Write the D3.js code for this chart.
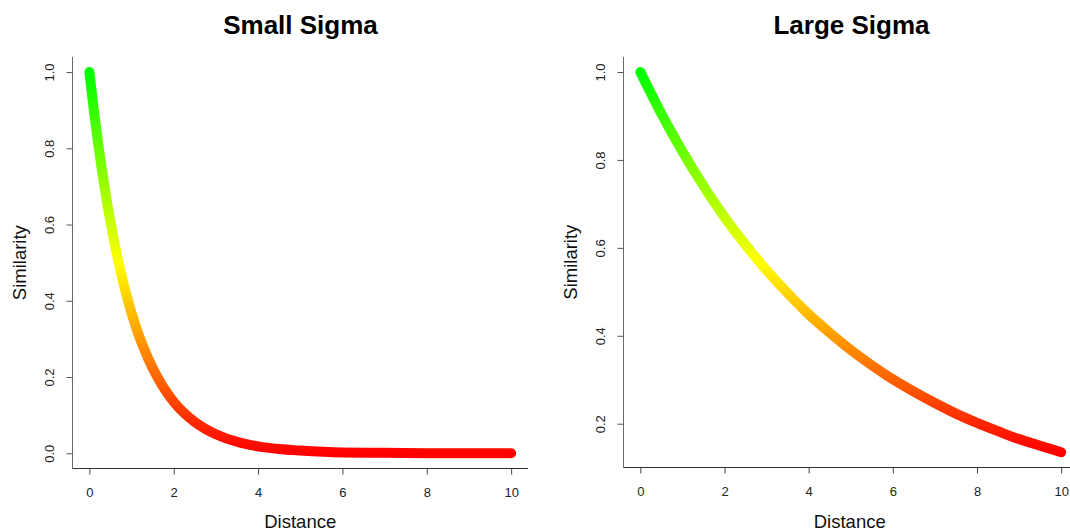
<!DOCTYPE html>
<html>
<head>
<meta charset="utf-8">
<script src="https://cdn.jsdelivr.net/npm/d3@7"></script>
<style>
  html, body { margin: 0; padding: 0; background: #ffffff; }
  svg { display: block; font-family: "Liberation Sans", Arial, sans-serif; }
</style>
</head>
<body>
<svg id="chart" width="1070" height="531"></svg>
<script>
// ---- Data ----
const smallDistance = [0, 0.1, 0.2, 0.3, 0.4, 0.5, 0.6, 0.7, 0.8, 0.9, 1.0, 1.2, 1.4, 1.6, 1.8, 2.0, 2.25, 2.5, 2.75, 3.0, 3.5, 4, 4.5, 5, 6, 7, 8, 9, 10];
const smallSimilarity = [1.000, 0.905, 0.819, 0.741, 0.670, 0.607, 0.549, 0.497, 0.449, 0.407, 0.368, 0.301, 0.247, 0.202, 0.165, 0.135, 0.105, 0.082, 0.064, 0.050, 0.030, 0.018, 0.011, 0.007, 0.002, 0.001, 0.000, 0.000, 0.000];

const largeDistance = [0, 0.5, 1, 1.5, 2, 2.5, 3, 3.5, 4, 4.5, 5, 5.5, 6, 6.5, 7, 7.5, 8, 8.5, 9, 9.5, 10];
const largeSimilarity = [1.000, 0.905, 0.819, 0.741, 0.670, 0.607, 0.549, 0.497, 0.449, 0.407, 0.368, 0.333, 0.301, 0.273, 0.247, 0.223, 0.202, 0.183, 0.165, 0.150, 0.135];

const xTickValues = [0, 2, 4, 6, 8, 10];
const smallYTickValues = [0.0, 0.2, 0.4, 0.6, 0.8, 1.0];
const largeYTickValues = [0.2, 0.4, 0.6, 0.8, 1.0];

const titles = ["Small Sigma", "Large Sigma"];
const xLabel = "Distance";
const yLabel = "Similarity";
const rampColors = ["#00FF00", "#FFFF00", "#FF0000"]; // high -> mid -> low

// ---- Layout ----
const svg = d3.select("#chart");
const defs = svg.append("defs");

const panels = [
  { id: "small", title: titles[0], dist: smallDistance, sim: smallSimilarity, yTicks: smallYTickValues,
    left: 72.5, right: 528, top: 56.8, bottom: 468.5, titleX: 300.5 },
  { id: "large", title: titles[1], dist: largeDistance, sim: largeSimilarity, yTicks: largeYTickValues,
    left: 623.5, right: 1078, top: 56.8, bottom: 467.5, titleX: 851.5 }
];

panels.forEach(p => {
  const xExt = d3.extent(p.dist);
  const yExt = d3.extent(p.sim);
  const xPad = (xExt[1] - xExt[0]) * 0.04;
  const yPad = (yExt[1] - yExt[0]) * 0.04;

  const x = d3.scaleLinear().domain([xExt[0] - xPad, xExt[1] + xPad]).range([p.left, p.right]);
  const y = d3.scaleLinear().domain([yExt[0] - yPad, yExt[1] + yPad]).range([p.bottom, p.top]);

  const g = svg.append("g");

  // gradient: colour by similarity value (green high, yellow mid, red low)
  const grad = defs.append("linearGradient")
    .attr("id", "grad-" + p.id)
    .attr("gradientUnits", "userSpaceOnUse")
    .attr("x1", 0).attr("x2", 0)
    .attr("y1", y(yExt[1])).attr("y2", y(yExt[0]));
  rampColors.forEach((c, i) => {
    grad.append("stop").attr("offset", i / (rampColors.length - 1)).attr("stop-color", c);
  });

  // L-shaped box
  g.append("line")
    .attr("x1", p.left).attr("x2", p.left)
    .attr("y1", p.top).attr("y2", p.bottom)
    .attr("stroke", "#6a6a6a").attr("stroke-width", 1);
  g.append("line")
    .attr("x1", p.left).attr("x2", p.right)
    .attr("y1", p.bottom).attr("y2", p.bottom)
    .attr("stroke", "#333").attr("stroke-width", 1);

  // x axis
  const xAxis = d3.axisBottom(x).tickValues(xTickValues).tickSize(6).tickPadding(13)
    .tickFormat(d3.format("d"));
  const xg = g.append("g").attr("transform", `translate(0,${p.bottom})`).call(xAxis);
  xg.select(".domain").remove();
  xg.selectAll(".tick line").attr("stroke", "#444");
  xg.selectAll(".tick text").attr("fill", "#222").attr("font-size", 13)
    .attr("font-family", "Liberation Sans, Arial, sans-serif");

  // y axis
  const yAxis = d3.axisLeft(y).tickValues(p.yTicks).tickSize(6).tickFormat(d3.format(".1f"));
  const yg = g.append("g").attr("transform", `translate(${p.left},0)`).call(yAxis);
  yg.select(".domain").remove();
  yg.selectAll(".tick line").attr("stroke", "#555");
  yg.selectAll(".tick text")
    .attr("x", null).attr("dy", null)
    .attr("text-anchor", "middle")
    .attr("transform", "translate(-18.5,0) rotate(-90)")
    .attr("fill", "#222").attr("font-size", 13)
    .attr("font-family", "Liberation Sans, Arial, sans-serif");

  // curve
  const line = d3.line()
    .x((d, i) => x(p.dist[i]))
    .y((d, i) => y(p.sim[i]))
    .curve(d3.curveMonotoneX);
  g.append("path")
    .attr("d", line(p.sim))
    .attr("fill", "none")
    .attr("stroke", `url(#grad-${p.id})`)
    .attr("stroke-width", 10)
    .attr("stroke-linecap", "round")
    .attr("stroke-linejoin", "round");

  // title
  g.append("text")
    .attr("x", p.titleX).attr("y", 34)
    .attr("text-anchor", "middle")
    .attr("font-size", 26).attr("font-weight", "bold")
    .attr("fill", "#000")
    .text(p.title);

  // axis labels
  g.append("text")
    .attr("x", (p.left + p.right) / 2 - (p.id === "large" ? 1 : 0)).attr("y", 528)
    .attr("text-anchor", "middle")
    .attr("font-size", 18.5).attr("fill", "#111")
    .text(xLabel);
  g.append("text")
    .attr("transform", `translate(${p.left - 47},${(p.top + p.bottom) / 2}) rotate(-90)`)
    .attr("text-anchor", "middle")
    .attr("font-size", 18.5).attr("fill", "#111")
    .text(yLabel);
});
</script>
</body>
</html>
